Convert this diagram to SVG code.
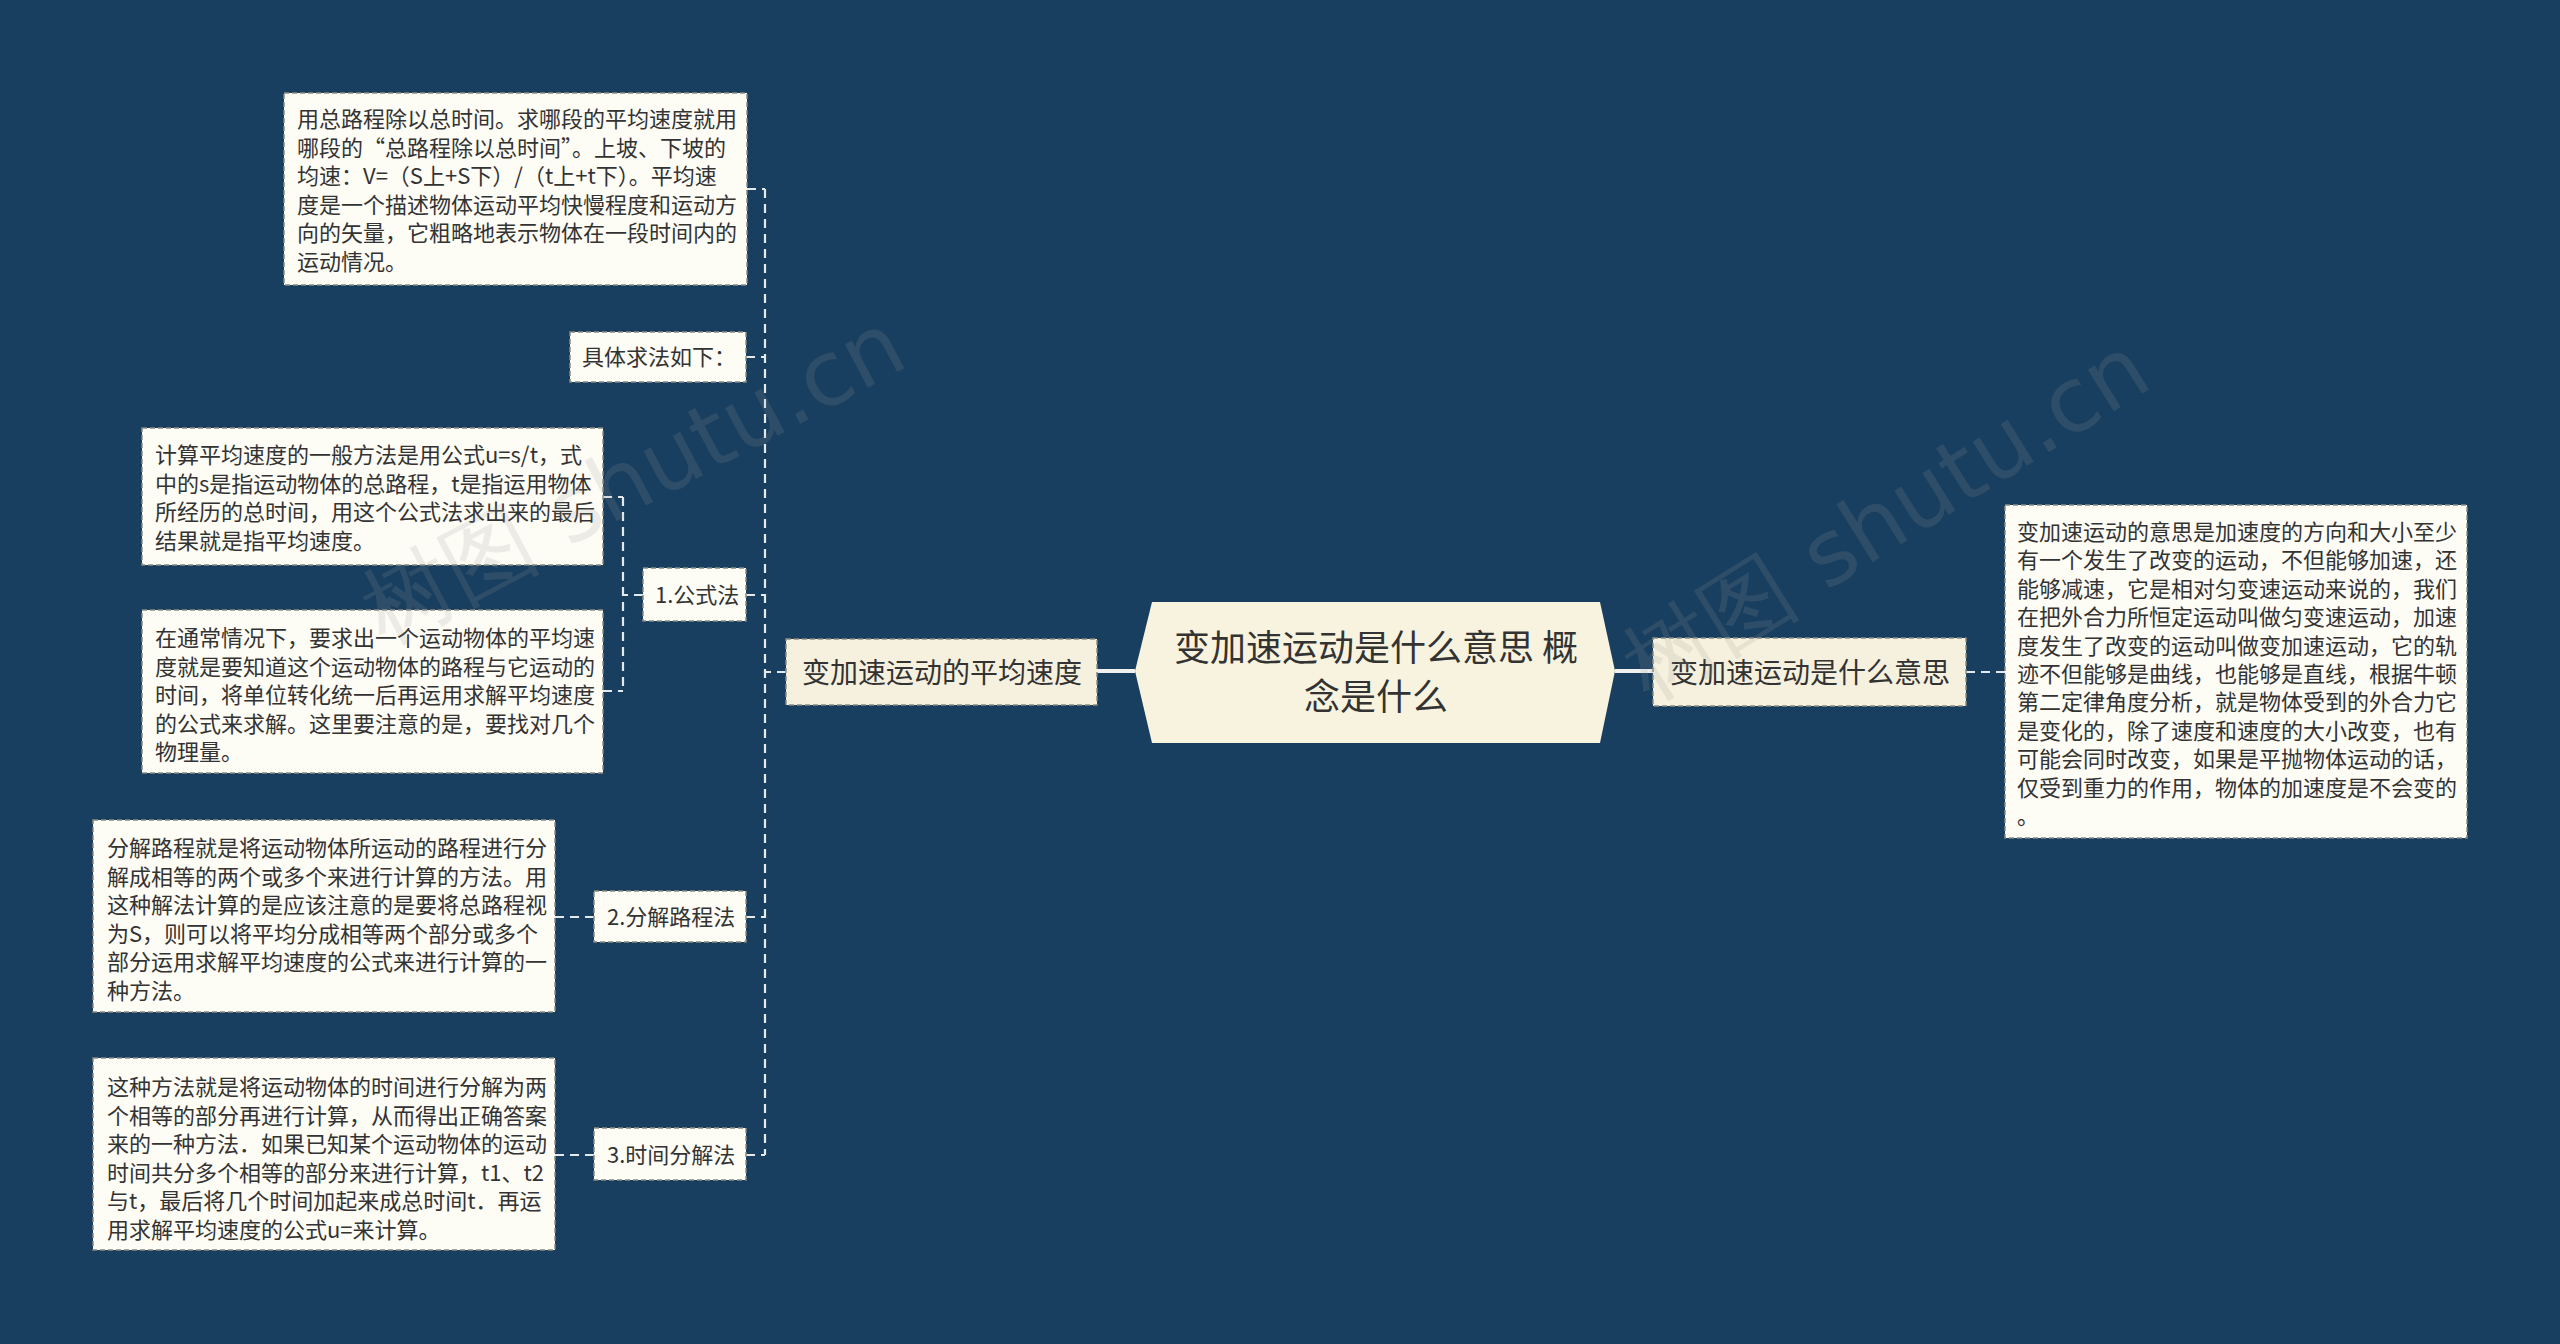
<svg xmlns="http://www.w3.org/2000/svg" width="2560" height="1344" viewBox="0 0 2560 1344">
<style>
text{font-family:"Noto Sans CJK SC","Noto Sans",sans-serif;fill:#333333}
.t22{font-size:22px}
.t28{font-size:28px}
.t36{font-size:36px}
.box{fill:#fdfcf5;stroke:#8a8a80;stroke-width:1.5;stroke-dasharray:5 3}
.br{fill:#f6f1de;stroke:#8a8a80;stroke-width:1.5;stroke-dasharray:5 3}
.dash{fill:none;stroke:#e6e9ec;stroke-width:2.2;stroke-dasharray:9 6}
.solid{fill:none;stroke:#f0f0f0;stroke-width:4}
.wm{font-family:"DejaVu Sans",sans-serif;font-size:90px;fill:#9a9a9a;opacity:0.16}
</style>
<rect width="2560" height="1344" fill="#183f5f"/>
<g id="connectors">
<path class="solid" d="M1135,671 H1097"/>
<path class="solid" d="M1615,671 H1653"/>
<path class="dash" d="M1966,672 H2005"/>
<path class="dash" d="M786,672 H765"/>
<path class="dash" d="M765,189 V1155"/>
<path class="dash" d="M747,189 H765"/>
<path class="dash" d="M746,357 H765"/>
<path class="dash" d="M746,595 H765"/>
<path class="dash" d="M746,917 H765"/>
<path class="dash" d="M746,1155 H765"/>
<path class="dash" d="M643,595 H623"/>
<path class="dash" d="M623,497 V691"/>
<path class="dash" d="M603,497 H623"/>
<path class="dash" d="M603,691 H623"/>
<path class="dash" d="M594,917 H555"/>
<path class="dash" d="M594,1155 H555"/>
</g>
<g id="center">
<polygon points="1152,602 1600,602 1615,671 1600,743 1152,743 1135,671" fill="#f8f3df"/>
<text class="t36" x="1376" y="661" text-anchor="middle">变加速运动是什么意思 概</text>
<text class="t36" x="1376" y="710" text-anchor="middle">念是什么</text>
</g>
<g id="n-avg">
<rect class="br" x="786" y="639" width="311" height="66"/>
<text class="t28" x="802" y="683">变加速运动的平均速度</text>
</g>
<g id="n-meaning">
<rect class="br" x="1653" y="638" width="313" height="68"/>
<text class="t28" x="1670" y="683">变加速运动是什么意思</text>
</g>
<g id="n-meaning-text">
<rect class="box" x="2005" y="505" width="462" height="333"/>
<text class="t22" x="2017" y="540">变加速运动的意思是加速度的方向和大小至少</text>
<text class="t22" x="2017" y="568.4">有一个发生了改变的运动，不但能够加速，还</text>
<text class="t22" x="2017" y="596.8">能够减速，它是相对匀变速运动来说的，我们</text>
<text class="t22" x="2017" y="625.2">在把外合力所恒定运动叫做匀变速运动，加速</text>
<text class="t22" x="2017" y="653.6">度发生了改变的运动叫做变加速运动，它的轨</text>
<text class="t22" x="2017" y="682">迹不但能够是曲线，也能够是直线，根据牛顿</text>
<text class="t22" x="2017" y="710.4">第二定律角度分析，就是物体受到的外合力它</text>
<text class="t22" x="2017" y="738.8">是变化的，除了速度和速度的大小改变，也有</text>
<text class="t22" x="2017" y="767.2">可能会同时改变，如果是平抛物体运动的话，</text>
<text class="t22" x="2017" y="795.6">仅受到重力的作用，物体的加速度是不会变的</text>
<text class="t22" x="2017" y="824">。</text>
</g>
<g id="n-top-text">
<rect class="box" x="284" y="93" width="463" height="192"/>
<text class="t22" x="297" y="127">用总路程除以总时间。求哪段的平均速度就用</text>
<text class="t22" x="297" y="155.5">哪段的“总路程除以总时间”。上坡、下坡的</text>
<text class="t22" x="297" y="184">均速：V=（S上+S下）/（t上+t下）。平均速</text>
<text class="t22" x="297" y="212.5">度是一个描述物体运动平均快慢程度和运动方</text>
<text class="t22" x="297" y="241">向的矢量，它粗略地表示物体在一段时间内的</text>
<text class="t22" x="297" y="269.5">运动情况。</text>
</g>
<g id="n-method-intro">
<rect class="box" x="570" y="332" width="176" height="50"/>
<text class="t22" x="582" y="365">具体求法如下：</text>
</g>
<g id="n-formula">
<rect class="box" x="643" y="568" width="103" height="53"/>
<text class="t22" x="655" y="603">1.公式法</text>
</g>
<g id="n-formula-text1">
<rect class="box" x="142" y="428" width="461" height="137"/>
<text class="t22" x="155" y="463">计算平均速度的一般方法是用公式u=s/t，式</text>
<text class="t22" x="155" y="491.5">中的s是指运动物体的总路程，t是指运用物体</text>
<text class="t22" x="155" y="520">所经历的总时间，用这个公式法求出来的最后</text>
<text class="t22" x="155" y="548.5">结果就是指平均速度。</text>
</g>
<g id="n-formula-text2">
<rect class="box" x="142" y="610" width="461" height="163"/>
<text class="t22" x="155" y="646">在通常情况下，要求出一个运动物体的平均速</text>
<text class="t22" x="155" y="674.5">度就是要知道这个运动物体的路程与它运动的</text>
<text class="t22" x="155" y="703">时间，将单位转化统一后再运用求解平均速度</text>
<text class="t22" x="155" y="731.5">的公式来求解。这里要注意的是，要找对几个</text>
<text class="t22" x="155" y="760">物理量。</text>
</g>
<g id="n-path">
<rect class="box" x="594" y="891" width="152" height="51"/>
<text class="t22" x="607" y="925">2.分解路程法</text>
</g>
<g id="n-path-text">
<rect class="box" x="93" y="820" width="462" height="192"/>
<text class="t22" x="107" y="856">分解路程就是将运动物体所运动的路程进行分</text>
<text class="t22" x="107" y="884.5">解成相等的两个或多个来进行计算的方法。用</text>
<text class="t22" x="107" y="913">这种解法计算的是应该注意的是要将总路程视</text>
<text class="t22" x="107" y="941.5">为S，则可以将平均分成相等两个部分或多个</text>
<text class="t22" x="107" y="970">部分运用求解平均速度的公式来进行计算的一</text>
<text class="t22" x="107" y="998.5">种方法。</text>
</g>
<g id="n-time">
<rect class="box" x="594" y="1128" width="152" height="52"/>
<text class="t22" x="607" y="1163">3.时间分解法</text>
</g>
<g id="n-time-text">
<rect class="box" x="93" y="1058" width="462" height="192"/>
<text class="t22" x="107" y="1095">这种方法就是将运动物体的时间进行分解为两</text>
<text class="t22" x="107" y="1123.5">个相等的部分再进行计算，从而得出正确答案</text>
<text class="t22" x="107" y="1152">来的一种方法．如果已知某个运动物体的运动</text>
<text class="t22" x="107" y="1180.5">时间共分多个相等的部分来进行计算，t1、t2</text>
<text class="t22" x="107" y="1209">与t，最后将几个时间加起来成总时间t．再运</text>
<text class="t22" x="107" y="1237.5">用求解平均速度的公式u=来计算。</text>
</g>
<g id="watermark">
<text class="wm" transform="translate(384 645) rotate(-28)">树图 shutu.cn</text>
<text class="wm" transform="translate(1649 702) rotate(-32)">树图 shutu.cn</text>
</g>
</svg>
